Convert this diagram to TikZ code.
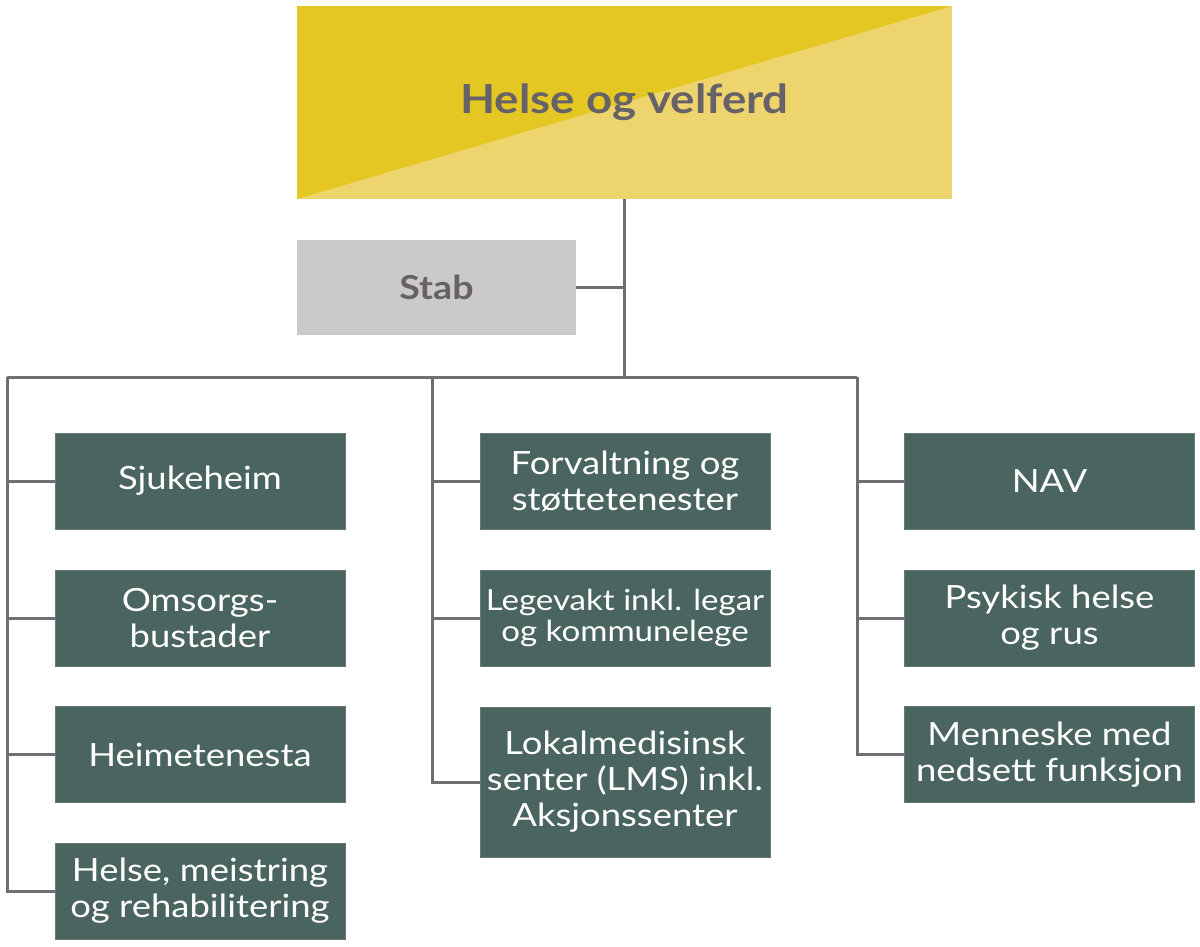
\documentclass[tikz,border=0pt]{standalone}
\usepackage{fontspec}
\setmainfont{Lato}[FakeStretch=1.14]
\definecolor{darkyel}{HTML}{E5C724}
\definecolor{lightyel}{HTML}{EED46C}
\definecolor{stabgray}{HTML}{CBC9CA}
\definecolor{boxgreen}{HTML}{4A645F}
\definecolor{linegray}{HTML}{716D71}
\definecolor{textgray}{HTML}{666268}
\tikzset{
  unitbox/.style={rectangle, fill=boxgreen, draw=boxgreen!85!white, line width=0.8pt, text=white, minimum width=290pt, minimum height=96pt, inner sep=0pt, align=center, font=\fontsize{32}{36}\selectfont},
  tallbox/.style={unitbox, minimum height=150pt},
  link/.style={draw=linegray, line width=3pt},
}
\begin{document}
\begin{tikzpicture}[x=1pt,y=-1pt]
\useasboundingbox (0,0) rectangle (1200,946);
\node[rectangle, minimum width=655pt, minimum height=193pt, inner sep=0pt, fill=lightyel,
  path picture={\fill[darkyel] (path picture bounding box.south west) -- (path picture bounding box.north west) -- (path picture bounding box.north east) -- cycle;},
  text=textgray, font=\bfseries\fontsize{40}{44}\selectfont] (top) at (624.5,102.5) {Helse og velferd};
\node[rectangle, minimum width=279pt, minimum height=95pt, inner sep=0pt, fill=stabgray, text=textgray, font=\bfseries\fontsize{33}{36}\selectfont] (stab) at (436.5,287.5) {Stab};

\coordinate (J) at (624.5,377);
\coordinate (L) at (7,377);
\coordinate (M) at (432.5,377);
\coordinate (R) at (857,377);

\node[unitbox] (sjuk) at (200,481) {Sjukeheim};
\node[unitbox] (omsorg) at (200,618) {Omsorgs-\\bustader};
\node[unitbox] (heime) at (200,754.5) {Heimetenesta};
\node[unitbox] (hmr) at (200,891) {Helse, meistring\\og rehabilitering};

\node[unitbox] (forv) at (625,481) {Forvaltning og\\støttetenester};
\node[unitbox, font=\fontsize{29}{31}\selectfont] (lege) at (625,618) {Legevakt inkl. legar\\og kommunelege};
\node[tallbox] (lms) at (625,782) {Lokalmedisinsk\\senter (LMS) inkl.\\Aksjonssenter};

\node[unitbox] (nav) at (1049.5,481) {NAV};
\node[unitbox] (psyk) at (1049.5,618) {Psykisk helse\\og rus};
\node[unitbox] (menn) at (1049.5,754.5) {Menneske med\\nedsett funksjon};

\draw[link] (top.south) -- (J);
\draw[link] (stab.east) -- (stab.east -| J);
\draw[link] (L) -- (R);
\draw[link] (L) |- (hmr.west);
\draw[link] (sjuk.west -| L) -- (sjuk.west);
\draw[link] (omsorg.west -| L) -- (omsorg.west);
\draw[link] (heime.west -| L) -- (heime.west);
\draw[link] (M) |- (lms.west);
\draw[link] (forv.west -| M) -- (forv.west);
\draw[link] (lege.west -| M) -- (lege.west);
\draw[link] (R) |- (menn.west);
\draw[link] (nav.west -| R) -- (nav.west);
\draw[link] (psyk.west -| R) -- (psyk.west);
\end{tikzpicture}
\end{document}
